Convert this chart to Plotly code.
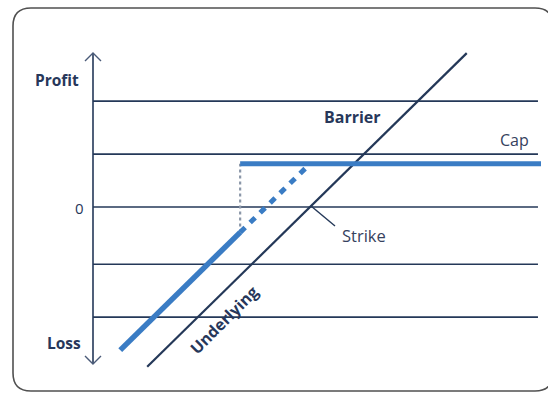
import plotly.graph_objects as go

# ---- data (conceptual units: price relative to strike, profit) ----
grid_levels = [1.96, 0.98, 0.0, -1.06, -2.04]
grid_x = [-3.945, 4.145]

underlying_price = [-2.96, 2.85]
underlying_profit = [-2.96, 2.85]

product_price = [-3.45, -1.27]
product_profit = [-2.65, -0.47]

knocked_price = [-1.27, -0.03]
knocked_profit = [-0.47, 0.77]

cap_price = [-1.27, 4.2]
cap_profit = [0.8, 0.8]

barrier_price = [-1.27, -1.27]
barrier_profit = [-0.47, 0.8]

# ---- pixel <-> data mapping helpers (for decorations) ----
W, H = 548, 394
X0, XS = 310.0, 55.0
Y0, YS = 207.0, 54.0


def fx(px):
    return (px - X0) / XS


def fy(py):
    return (Y0 - py) / YS


NAVY = "#243858"
BLUE = "#3a7cc4"
TEXT = "#27375a"

fig = go.Figure()

# gridlines
for lv in grid_levels:
    fig.add_trace(go.Scatter(x=grid_x, y=[lv, lv], mode="lines",
                             line=dict(color=NAVY, width=1.6),
                             hoverinfo="skip", showlegend=False))

# vertical axis with chevron arrows
ax = fx(93)
top, bot = fy(53), fy(364)
dx, dy = 8 / XS, 8 / YS
fig.add_trace(go.Scatter(x=[ax, ax], y=[top, bot], mode="lines",
                         line=dict(color=NAVY, width=1.6), hoverinfo="skip", showlegend=False))
fig.add_trace(go.Scatter(x=[ax - dx, ax, ax + dx], y=[top - dy, top, top - dy], mode="lines",
                         line=dict(color="#4a5a78", width=1.4), hoverinfo="skip", showlegend=False))
fig.add_trace(go.Scatter(x=[ax - dx, ax, ax + dx], y=[bot + dy, bot, bot + dy], mode="lines",
                         line=dict(color="#4a5a78", width=1.4), hoverinfo="skip", showlegend=False))

# underlying
fig.add_trace(go.Scatter(x=underlying_price, y=underlying_profit, mode="lines",
                         line=dict(color=NAVY, width=2.2), hoverinfo="skip", showlegend=False))

# strike leader line
fig.add_trace(go.Scatter(x=[fx(311), fx(335)], y=[fy(206), fy(226)], mode="lines",
                         line=dict(color=NAVY, width=1.4), hoverinfo="skip", showlegend=False))

# barrier dotted vertical
fig.add_trace(go.Scatter(x=barrier_price, y=barrier_profit, mode="lines",
                         line=dict(color="#8a96a8", width=2.2, dash="3px,3px"),
                         hoverinfo="skip", showlegend=False))

# product payoff
fig.add_trace(go.Scatter(x=product_price, y=product_profit, mode="lines",
                         line=dict(color=BLUE, width=5.5), hoverinfo="skip", showlegend=False))
fig.add_trace(go.Scatter(x=knocked_price, y=knocked_profit, mode="lines",
                         line=dict(color=BLUE, width=5, dash="7px,7px"),
                         hoverinfo="skip", showlegend=False))
fig.add_trace(go.Scatter(x=cap_price, y=cap_profit, mode="lines",
                         line=dict(color=BLUE, width=5), hoverinfo="skip", showlegend=False))

FONT = "Open Sans"


def ann(text, px, py, size=13, bold=False, color=TEXT, angle=0, xanchor="center"):
    fig.add_annotation(x=fx(px), y=fy(py), text=f"<b>{text}</b>" if bold else text,
                       showarrow=False, textangle=angle, xanchor=xanchor, yanchor="middle",
                       font=dict(family=FONT, size=size, color=color))


ann("Profit", 81, 80, size=15.5, bold=True, xanchor="right")
ann("0", 86, 208, size=15, xanchor="right")
ann("Loss", 83, 343, size=15.5, bold=True, xanchor="right")
ann("Barrier", 352, 117, size=16, bold=True)
ann("Cap", 514, 140, size=16, color="#36425e")
ann("Strike", 340, 235, size=16.5, color="#36425e", xanchor="left")
ann("Underlying", 224, 320, size=16, bold=True, angle=-45)

# rounded frame
L, T, R, B, r = 13, 8, 553, 391, 18
path = (f"M {fx(L)},{fy(T + r)} Q {fx(L)},{fy(T)} {fx(L + r)},{fy(T)} "
        f"L {fx(R - r)},{fy(T)} Q {fx(R)},{fy(T)} {fx(R)},{fy(T + r)} "
        f"L {fx(R)},{fy(B - r)} Q {fx(R)},{fy(B)} {fx(R - r)},{fy(B)} "
        f"L {fx(L + r)},{fy(B)} Q {fx(L)},{fy(B)} {fx(L)},{fy(B - r)} Z")
fig.add_shape(type="path", path=path, xref="x", yref="y",
              line=dict(color="#505050", width=1.6), layer="below")

fig.update_layout(
    width=W, height=H,
    margin=dict(l=0, r=0, t=0, b=0),
    paper_bgcolor="white", plot_bgcolor="white",
    xaxis=dict(range=[fx(0), fx(W)], visible=False, fixedrange=True),
    yaxis=dict(range=[fy(H), fy(0)], visible=False, fixedrange=True),
)

fig.write_html(
    "out.html",
    config={"displayModeBar": False},
    post_script="document.body.style.margin='0';document.body.style.overflow='hidden';",
)
